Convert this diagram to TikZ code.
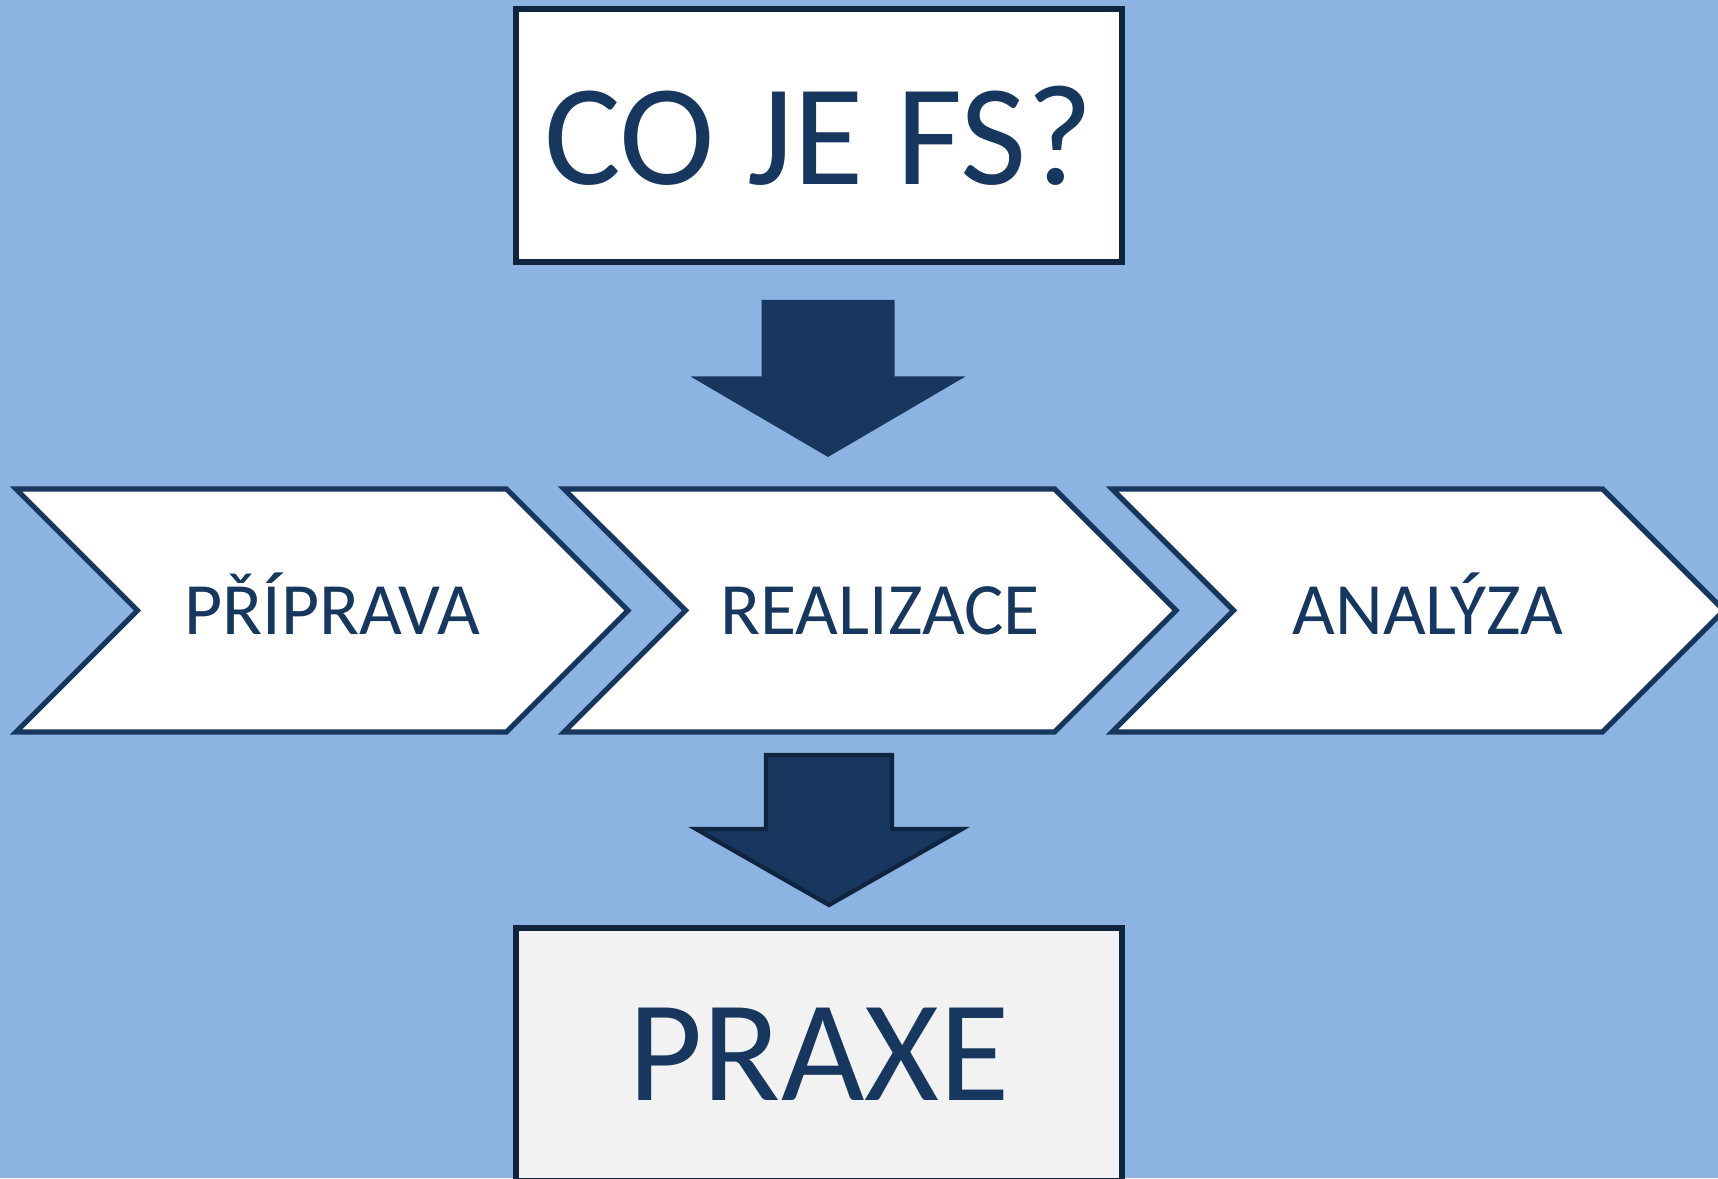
\documentclass[tikz,border=0pt]{standalone}
\usepackage{fontspec}
\setmainfont{Carlito}
\definecolor{fsBg}{HTML}{8DB3E2}
\definecolor{fsNavy}{HTML}{17375E}
\definecolor{fsEdge}{HTML}{0F243E}
\definecolor{fsCard}{HTML}{F2F2F2}
\usetikzlibrary{positioning,shapes.symbols}

\begin{document}
\begin{tikzpicture}[
  titlebox/.style={draw=fsEdge, line width=1.5pt, fill=white, minimum width=6.06cm, minimum height=2.53cm,
    inner sep=0pt, text=fsNavy, font=\fontsize{41}{49}\selectfont},
  stage/.style={signal, signal from=west, signal to=east, signal pointer angle=90, draw=fsNavy, line width=1.5pt,
    fill=white, minimum width=6.12cm, minimum height=2.43cm, inner sep=0pt, text=fsNavy,
    text height=13.5pt, text depth=0pt, font=\fontsize{21}{25}\selectfont,
    execute at begin node=\hspace{0.2cm}}
]
  \fill[fsBg] (0,0) rectangle (17.18,11.78);
  \clip (0,0) rectangle (17.18,11.78);

  \node[titlebox] (quest) at (8.19,10.425) {CO JE FS?};

  \node[stage] (priprava) at (3.22,5.675) {PŘÍPRAVA};
  \node[stage] (realizace) at (8.70,5.675) {REALIZACE};
  \node[stage] (analyza) at (14.18,5.675) {ANALÝZA};

  \node[titlebox, fill=fsCard] (praxe) at (8.19,1.235) {PRAXE};

  % block arrows
  \coordinate (a1) at (8.28,8.78);
  \fill[fsNavy] (a1) ++(-0.665,0) -- ++(1.33,0) -- ++(0,-0.765) -- ++(0.71,0) -- ++(-1.375,-0.805)
    -- ++(-1.375,0.805) -- ++(0.71,0) -- cycle;
  \coordinate (a2) at (8.29,4.23);
  \filldraw[fsNavy, draw=fsEdge, line width=1.2pt] (a2) ++(-0.63,0) -- ++(1.26,0) -- ++(0,-0.74) -- ++(0.7,0)
    -- ++(-1.33,-0.76) -- ++(-1.33,0.76) -- ++(0.7,0) -- cycle;
\end{tikzpicture}
\end{document}
